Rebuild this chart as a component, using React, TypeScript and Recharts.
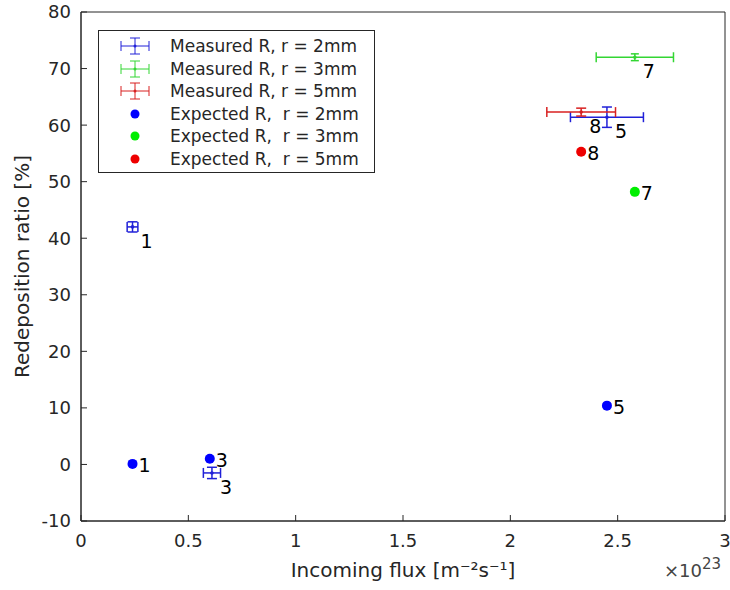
import React from "react";
import { ErrorBar, ReferenceArea, Scatter, ScatterChart, XAxis, YAxis } from "recharts";

// Expected redeposition (dots), labelled by sample number
const expected2Flux = [0.24, 0.6, 2.45];
const expected2Ratio = [0.1, 1.0, 10.4];
const expected2Labels = ["1", "3", "5"];

const expected3Flux = [2.58];
const expected3Ratio = [48.2];
const expected3Labels = ["7"];

const expected5Flux = [2.33];
const expected5Ratio = [55.3];
const expected5Labels = ["8"];

// Measured redeposition with error bars
const measured2Flux = [0.24, 0.61, 2.45];
const measured2Ratio = [42.0, -1.5, 61.4];
const measured2FluxErr = [0.025, 0.04, 0.17];
const measured2RatioErr = [0.9, 1.0, 1.8];
const measured2Labels = ["1", "3", "5"];

const measured3Flux = [2.58];
const measured3Ratio = [72.0];
const measured3FluxErr = [0.18];
const measured3RatioErr = [0.6];
const measured3Labels = ["7"];

const measured5Flux = [2.33];
const measured5Ratio = [62.3];
const measured5FluxErr = [0.16];
const measured5RatioErr = [0.7];
const measured5Labels = ["8"];

const xTicks = [0, 0.5, 1, 1.5, 2, 2.5, 3];
const yTicks = [-10, 0, 10, 20, 30, 40, 50, 60, 70, 80];

const BLUE = "#0000ff";
const GREEN = "#00ee00";
const RED = "#ee0000";
const BLUE_BAR = "#2020d8";
const GREEN_BAR = "#33d633";
const RED_BAR = "#d82020";
const AXIS = "#262626";
const FONT = "'DejaVu Sans', sans-serif";

const expectedRows = (xs: number[], ys: number[], labels: string[]) =>
  xs.map((x, i) => ({ x, y: ys[i], label: labels[i] }));

const measuredRows = (
  xs: number[],
  ys: number[],
  xe: number[],
  ye: number[],
  labels: string[]
) => xs.map((x, i) => ({ x, y: ys[i], xErr: xe[i], yErr: ye[i], label: labels[i] }));

const exp2 = expectedRows(expected2Flux, expected2Ratio, expected2Labels);
const exp3 = expectedRows(expected3Flux, expected3Ratio, expected3Labels);
const exp5 = expectedRows(expected5Flux, expected5Ratio, expected5Labels);
const meas2 = measuredRows(measured2Flux, measured2Ratio, measured2FluxErr, measured2RatioErr, measured2Labels);
const meas3 = measuredRows(measured3Flux, measured3Ratio, measured3FluxErr, measured3RatioErr, measured3Labels);
const meas5 = measuredRows(measured5Flux, measured5Ratio, measured5FluxErr, measured5RatioErr, measured5Labels);

function expectedDot(color: string) {
  return (props: any) => {
    const { cx, cy, payload } = props;
    return (
      <g>
        <circle cx={cx} cy={cy} r={5} fill={color} />
        <text x={cx + 6} y={cy + 1} dominantBaseline="central" fontSize={19} fill="#000" fontFamily={FONT}>
          {payload.label}
        </text>
      </g>
    );
  };
}

function measuredDot(color: string) {
  return (props: any) => {
    const { cx, cy, payload } = props;
    return (
      <g>
        <circle cx={cx} cy={cy} r={1.8} fill={color} />
        <text x={cx + 8} y={cy + 14} dominantBaseline="central" fontSize={19} fill="#000" fontFamily={FONT}>
          {payload.label}
        </text>
      </g>
    );
  };
}

function ErrIcon({ color }: { color: string }) {
  return (
    <svg width={34} height={20}>
      <line x1={3} y1={10} x2={31} y2={10} stroke={color} />
      <line x1={3} y1={5} x2={3} y2={15} stroke={color} />
      <line x1={31} y1={5} x2={31} y2={15} stroke={color} />
      <line x1={17} y1={2} x2={17} y2={18} stroke={color} />
      <line x1={12} y1={2} x2={22} y2={2} stroke={color} />
      <line x1={12} y1={18} x2={22} y2={18} stroke={color} />
      <circle cx={17} cy={10} r={1.5} fill={color} />
    </svg>
  );
}

function DotIcon({ color }: { color: string }) {
  return (
    <svg width={34} height={20}>
      <circle cx={17} cy={10} r={4.5} fill={color} />
    </svg>
  );
}

const legendItems = [
  { icon: <ErrIcon color={BLUE_BAR} />, text: "Measured R, r = 2mm" },
  { icon: <ErrIcon color={GREEN_BAR} />, text: "Measured R, r = 3mm" },
  { icon: <ErrIcon color={RED_BAR} />, text: "Measured R, r = 5mm" },
  { icon: <DotIcon color={BLUE} />, text: "Expected R,  r = 2mm" },
  { icon: <DotIcon color={GREEN} />, text: "Expected R,  r = 3mm" },
  { icon: <DotIcon color={RED} />, text: "Expected R,  r = 5mm" },
];

export default function App() {
  return (
    <div style={{ position: "absolute", left: 0, top: 0, width: 730, height: 590, background: "#fff", fontFamily: FONT }}>
      <ScatterChart width={730} height={590} margin={{ top: 12, right: 5, bottom: 0, left: 0 }}>
        <XAxis
          xAxisId="main"
          type="number"
          dataKey="x"
          domain={[0, 3]}
          ticks={xTicks}
          allowDataOverflow
          height={69}
          tickSize={-6}
          tickMargin={19}
          stroke={AXIS}
          tick={{ fill: AXIS, fontSize: 18, fontFamily: FONT }}
          label={{
            value: "Incoming flux [m\u207B\u00B2s\u207B\u00B9]",
            position: "insideBottom",
            offset: 13,
            style: { fill: AXIS, fontSize: 20, fontFamily: FONT },
          }}
        />
        <XAxis
          xAxisId="top"
          orientation="top"
          type="number"
          dataKey="x"
          domain={[0, 3]}
          ticks={xTicks}
          height={0}
          tickSize={-6}
          stroke={AXIS}
          tickFormatter={() => ""}
        />
        <YAxis
          yAxisId="main"
          type="number"
          dataKey="y"
          domain={[-10, 80]}
          ticks={yTicks}
          allowDataOverflow
          width={81}
          tickSize={-6}
          tickMargin={16}
          stroke={AXIS}
          tick={{ fill: AXIS, fontSize: 18, fontFamily: FONT }}
          label={{
            value: "Redeposition ratio [%]",
            angle: -90,
            position: "insideLeft",
            offset: 22,
            style: { fill: AXIS, fontSize: 20, fontFamily: FONT, textAnchor: "middle" },
          }}
        />
        <YAxis
          yAxisId="right"
          orientation="right"
          type="number"
          dataKey="y"
          domain={[-10, 80]}
          ticks={yTicks}
          width={0}
          tickSize={-6}
          stroke={AXIS}
          tickFormatter={() => ""}
        />

        <ReferenceArea
          xAxisId="main"
          yAxisId="main"
          x1={0}
          x2={3}
          y1={-10}
          y2={80}
          fill="none"
          fillOpacity={0}
          stroke={AXIS}
          strokeOpacity={1}
          ifOverflow="visible"
        />

        <Scatter xAxisId="top" yAxisId="right" data={[]} isAnimationActive={false} />

        <Scatter xAxisId="main" yAxisId="main" data={meas2} isAnimationActive={false} shape={measuredDot(BLUE_BAR)}>
          <ErrorBar dataKey="xErr" direction="x" width={5} stroke={BLUE_BAR} isAnimationActive={false} />
          <ErrorBar dataKey="yErr" direction="y" width={5} stroke={BLUE_BAR} isAnimationActive={false} />
        </Scatter>
        <Scatter xAxisId="main" yAxisId="main" data={meas3} isAnimationActive={false} shape={measuredDot(GREEN_BAR)}>
          <ErrorBar dataKey="xErr" direction="x" width={5} stroke={GREEN_BAR} isAnimationActive={false} />
          <ErrorBar dataKey="yErr" direction="y" width={4} stroke={GREEN_BAR} isAnimationActive={false} />
        </Scatter>
        <Scatter xAxisId="main" yAxisId="main" data={meas5} isAnimationActive={false} shape={measuredDot(RED_BAR)}>
          <ErrorBar dataKey="xErr" direction="x" width={5} stroke={RED_BAR} isAnimationActive={false} />
          <ErrorBar dataKey="yErr" direction="y" width={5} stroke={RED_BAR} isAnimationActive={false} />
        </Scatter>
        <Scatter xAxisId="main" yAxisId="main" data={exp2} isAnimationActive={false} shape={expectedDot(BLUE)} />
        <Scatter xAxisId="main" yAxisId="main" data={exp3} isAnimationActive={false} shape={expectedDot(GREEN)} />
        <Scatter xAxisId="main" yAxisId="main" data={exp5} isAnimationActive={false} shape={expectedDot(RED)} />
      </ScatterChart>

      <div
        style={{
          position: "absolute",
          left: 98,
          top: 30,
          width: 277,
          height: 143,
          border: `1px solid ${AXIS}`,
          background: "#fff",
          paddingTop: 4,
          boxSizing: "border-box",
        }}
      >
        {legendItems.map((item) => (
          <div key={item.text} style={{ display: "flex", alignItems: "center", height: 22.5, whiteSpace: "pre" }}>
            <div style={{ marginLeft: 19, width: 34, height: 20 }}>{item.icon}</div>
            <span style={{ marginLeft: 18, fontSize: 17, color: AXIS }}>{item.text}</span>
          </div>
        ))}
      </div>

      <div style={{ position: "absolute", left: 664, top: 560, fontSize: 18, color: "#444", whiteSpace: "nowrap" }}>
        {"\u00D710"}
        <span style={{ fontSize: 15, position: "relative", top: -8 }}>23</span>
      </div>
    </div>
  );
}
